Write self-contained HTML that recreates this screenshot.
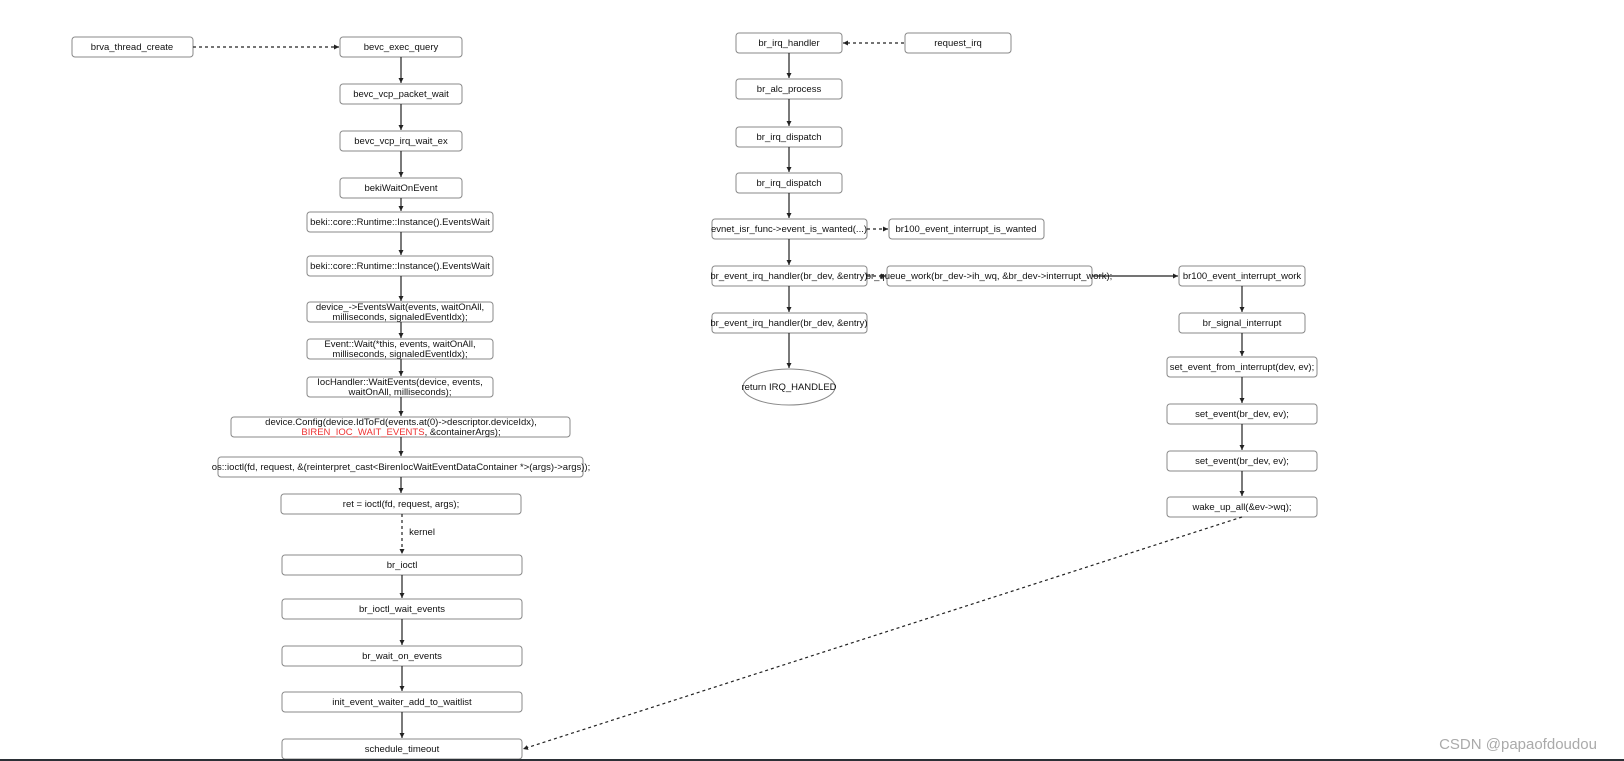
<!DOCTYPE html>
<html><head><meta charset="utf-8"><style>
html,body{margin:0;padding:0;background:#fff;}
svg{display:block;}
text{font-family:"Liberation Sans",Arial,sans-serif;font-size:9.5px;fill:#111;text-anchor:middle;}
.b{fill:#fff;stroke:#888;stroke-width:1;}
.l{stroke:#222;stroke-width:1.2;fill:none;}
.d{stroke:#222;stroke-width:1.2;fill:none;stroke-dasharray:3,3;}
</style></head><body>
<svg width="1624" height="761" viewBox="0 0 1624 761" xmlns="http://www.w3.org/2000/svg">
<defs><marker id="a" markerWidth="6" markerHeight="6" refX="5" refY="3" orient="auto" markerUnits="userSpaceOnUse"><path d="M0,0.5 L5,3 L0,5.5 Z" fill="#222"/></marker></defs>

<!-- left column -->
<rect class="b" x="72" y="37" width="121" height="20" rx="3"/><text x="132" y="50">brva_thread_create</text>
<rect class="b" x="340" y="37" width="122" height="20" rx="3"/><text x="401" y="50">bevc_exec_query</text>
<rect class="b" x="340" y="84" width="122" height="20" rx="3"/><text x="401" y="97">bevc_vcp_packet_wait</text>
<rect class="b" x="340" y="131" width="122" height="20" rx="3"/><text x="401" y="144">bevc_vcp_irq_wait_ex</text>
<rect class="b" x="340" y="178" width="122" height="20" rx="3"/><text x="401" y="191">bekiWaitOnEvent</text>
<rect class="b" x="307" y="212" width="186" height="20" rx="3"/><text x="400" y="225">beki::core::Runtime::Instance().EventsWait</text>
<rect class="b" x="307" y="256" width="186" height="20" rx="3"/><text x="400" y="269">beki::core::Runtime::Instance().EventsWait</text>
<rect class="b" x="307" y="302" width="186" height="20" rx="3"/><text x="400" y="310">device_-&gt;EventsWait(events, waitOnAll,</text><text x="400" y="320">milliseconds, signaledEventIdx);</text>
<rect class="b" x="307" y="339" width="186" height="20" rx="3"/><text x="400" y="347">Event::Wait(*this, events, waitOnAll,</text><text x="400" y="357">milliseconds, signaledEventIdx);</text>
<rect class="b" x="307" y="377" width="186" height="20" rx="3"/><text x="400" y="385">IocHandler::WaitEvents(device, events,</text><text x="400" y="395">waitOnAll, milliseconds);</text>
<rect class="b" x="231" y="417" width="339" height="20" rx="3"/><text x="401" y="425">device.Config(device.IdToFd(events.at(0)-&gt;descriptor.deviceIdx),</text><text x="401" y="435"><tspan fill="#e33">BIREN_IOC_WAIT_EVENTS</tspan>, &amp;containerArgs);</text>
<rect class="b" x="218" y="457" width="365" height="20" rx="3"/><text x="401" y="470">os::ioctl(fd, request, &amp;(reinterpret_cast&lt;BirenIocWaitEventDataContainer *&gt;(args)-&gt;args));</text>
<rect class="b" x="281" y="494" width="240" height="20" rx="3"/><text x="401" y="507">ret = ioctl(fd, request, args);</text>
<text x="422" y="535">kernel</text>
<rect class="b" x="282" y="555" width="240" height="20" rx="3"/><text x="402" y="568">br_ioctl</text>
<rect class="b" x="282" y="599" width="240" height="20" rx="3"/><text x="402" y="612">br_ioctl_wait_events</text>
<rect class="b" x="282" y="646" width="240" height="20" rx="3"/><text x="402" y="659">br_wait_on_events</text>
<rect class="b" x="282" y="692" width="240" height="20" rx="3"/><text x="402" y="705">init_event_waiter_add_to_waitlist</text>
<rect class="b" x="282" y="739" width="240" height="20" rx="3"/><text x="402" y="752">schedule_timeout</text>

<path class="d" d="M193,47 H339" marker-end="url(#a)"/>
<path class="l" d="M401,57 V83" marker-end="url(#a)"/>
<path class="l" d="M401,104 V130" marker-end="url(#a)"/>
<path class="l" d="M401,151 V177" marker-end="url(#a)"/>
<path class="l" d="M401,198 V211" marker-end="url(#a)"/>
<path class="l" d="M401,232 V255" marker-end="url(#a)"/>
<path class="l" d="M401,276 V301" marker-end="url(#a)"/>
<path class="l" d="M401,322 V338" marker-end="url(#a)"/>
<path class="l" d="M401,359 V376" marker-end="url(#a)"/>
<path class="l" d="M401,397 V416" marker-end="url(#a)"/>
<path class="l" d="M401,437 V456" marker-end="url(#a)"/>
<path class="l" d="M401,477 V493" marker-end="url(#a)"/>
<path class="d" d="M402,514 V554" marker-end="url(#a)"/>
<path class="l" d="M402,575 V598" marker-end="url(#a)"/>
<path class="l" d="M402,619 V645" marker-end="url(#a)"/>
<path class="l" d="M402,666 V691" marker-end="url(#a)"/>
<path class="l" d="M402,712 V738" marker-end="url(#a)"/>

<!-- middle column -->
<rect class="b" x="736" y="33" width="106" height="20" rx="3"/><text x="789" y="46">br_irq_handler</text>
<rect class="b" x="905" y="33" width="106" height="20" rx="3"/><text x="958" y="46">request_irq</text>
<rect class="b" x="736" y="79" width="106" height="20" rx="3"/><text x="789" y="92">br_alc_process</text>
<rect class="b" x="736" y="127" width="106" height="20" rx="3"/><text x="789" y="140">br_irq_dispatch</text>
<rect class="b" x="736" y="173" width="106" height="20" rx="3"/><text x="789" y="186">br_irq_dispatch</text>
<rect class="b" x="712" y="219" width="155" height="20" rx="3"/><text x="789" y="232">evnet_isr_func-&gt;event_is_wanted(...)</text>
<rect class="b" x="889" y="219" width="155" height="20" rx="3"/><text x="966" y="232">br100_event_interrupt_is_wanted</text>
<rect class="b" x="712" y="266" width="155" height="20" rx="3"/><text x="789" y="279">br_event_irq_handler(br_dev, &amp;entry)</text>
<rect class="b" x="887" y="266" width="205" height="20" rx="3"/><text x="989" y="279">br_queue_work(br_dev-&gt;ih_wq, &amp;br_dev-&gt;interrupt_work);</text>
<rect class="b" x="712" y="313" width="155" height="20" rx="3"/><text x="789" y="326">br_event_irq_handler(br_dev, &amp;entry)</text>
<ellipse class="b" cx="789" cy="387" rx="46" ry="18"/><text x="789" y="390">return IRQ_HANDLED</text>

<path class="d" d="M904,43 H843" marker-end="url(#a)"/>
<path class="l" d="M789,53 V78" marker-end="url(#a)"/>
<path class="l" d="M789,99 V126" marker-end="url(#a)"/>
<path class="l" d="M789,147 V172" marker-end="url(#a)"/>
<path class="l" d="M789,193 V218" marker-end="url(#a)"/>
<path class="l" d="M789,239 V265" marker-end="url(#a)"/>
<path class="l" d="M789,286 V312" marker-end="url(#a)"/>
<path class="l" d="M789,333 V368" marker-end="url(#a)"/>
<path class="d" d="M867,229 H888" marker-end="url(#a)"/>
<path class="d" d="M867,276 H886" marker-end="url(#a)"/>
<path class="l" d="M1092,276 H1178" marker-end="url(#a)"/>

<!-- right column -->
<rect class="b" x="1179" y="266" width="126" height="20" rx="3"/><text x="1242" y="279">br100_event_interrupt_work</text>
<rect class="b" x="1179" y="313" width="126" height="20" rx="3"/><text x="1242" y="326">br_signal_interrupt</text>
<rect class="b" x="1167" y="357" width="150" height="20" rx="3"/><text x="1242" y="370">set_event_from_interrupt(dev, ev);</text>
<rect class="b" x="1167" y="404" width="150" height="20" rx="3"/><text x="1242" y="417">set_event(br_dev, ev);</text>
<rect class="b" x="1167" y="451" width="150" height="20" rx="3"/><text x="1242" y="464">set_event(br_dev, ev);</text>
<rect class="b" x="1167" y="497" width="150" height="20" rx="3"/><text x="1242" y="510">wake_up_all(&amp;ev-&gt;wq);</text>
<path class="l" d="M1242,286 V312" marker-end="url(#a)"/>
<path class="l" d="M1242,333 V356" marker-end="url(#a)"/>
<path class="l" d="M1242,377 V403" marker-end="url(#a)"/>
<path class="l" d="M1242,424 V450" marker-end="url(#a)"/>
<path class="l" d="M1242,471 V496" marker-end="url(#a)"/>
<path class="d" d="M1242,517 L523,749" marker-end="url(#a)"/>

<text x="1518" y="749" style="font-size:15px;fill:#aaa">CSDN @papaofdoudou</text>
<rect x="0" y="759" width="1624" height="2" fill="#2b3036"/>
</svg>
</body></html>
